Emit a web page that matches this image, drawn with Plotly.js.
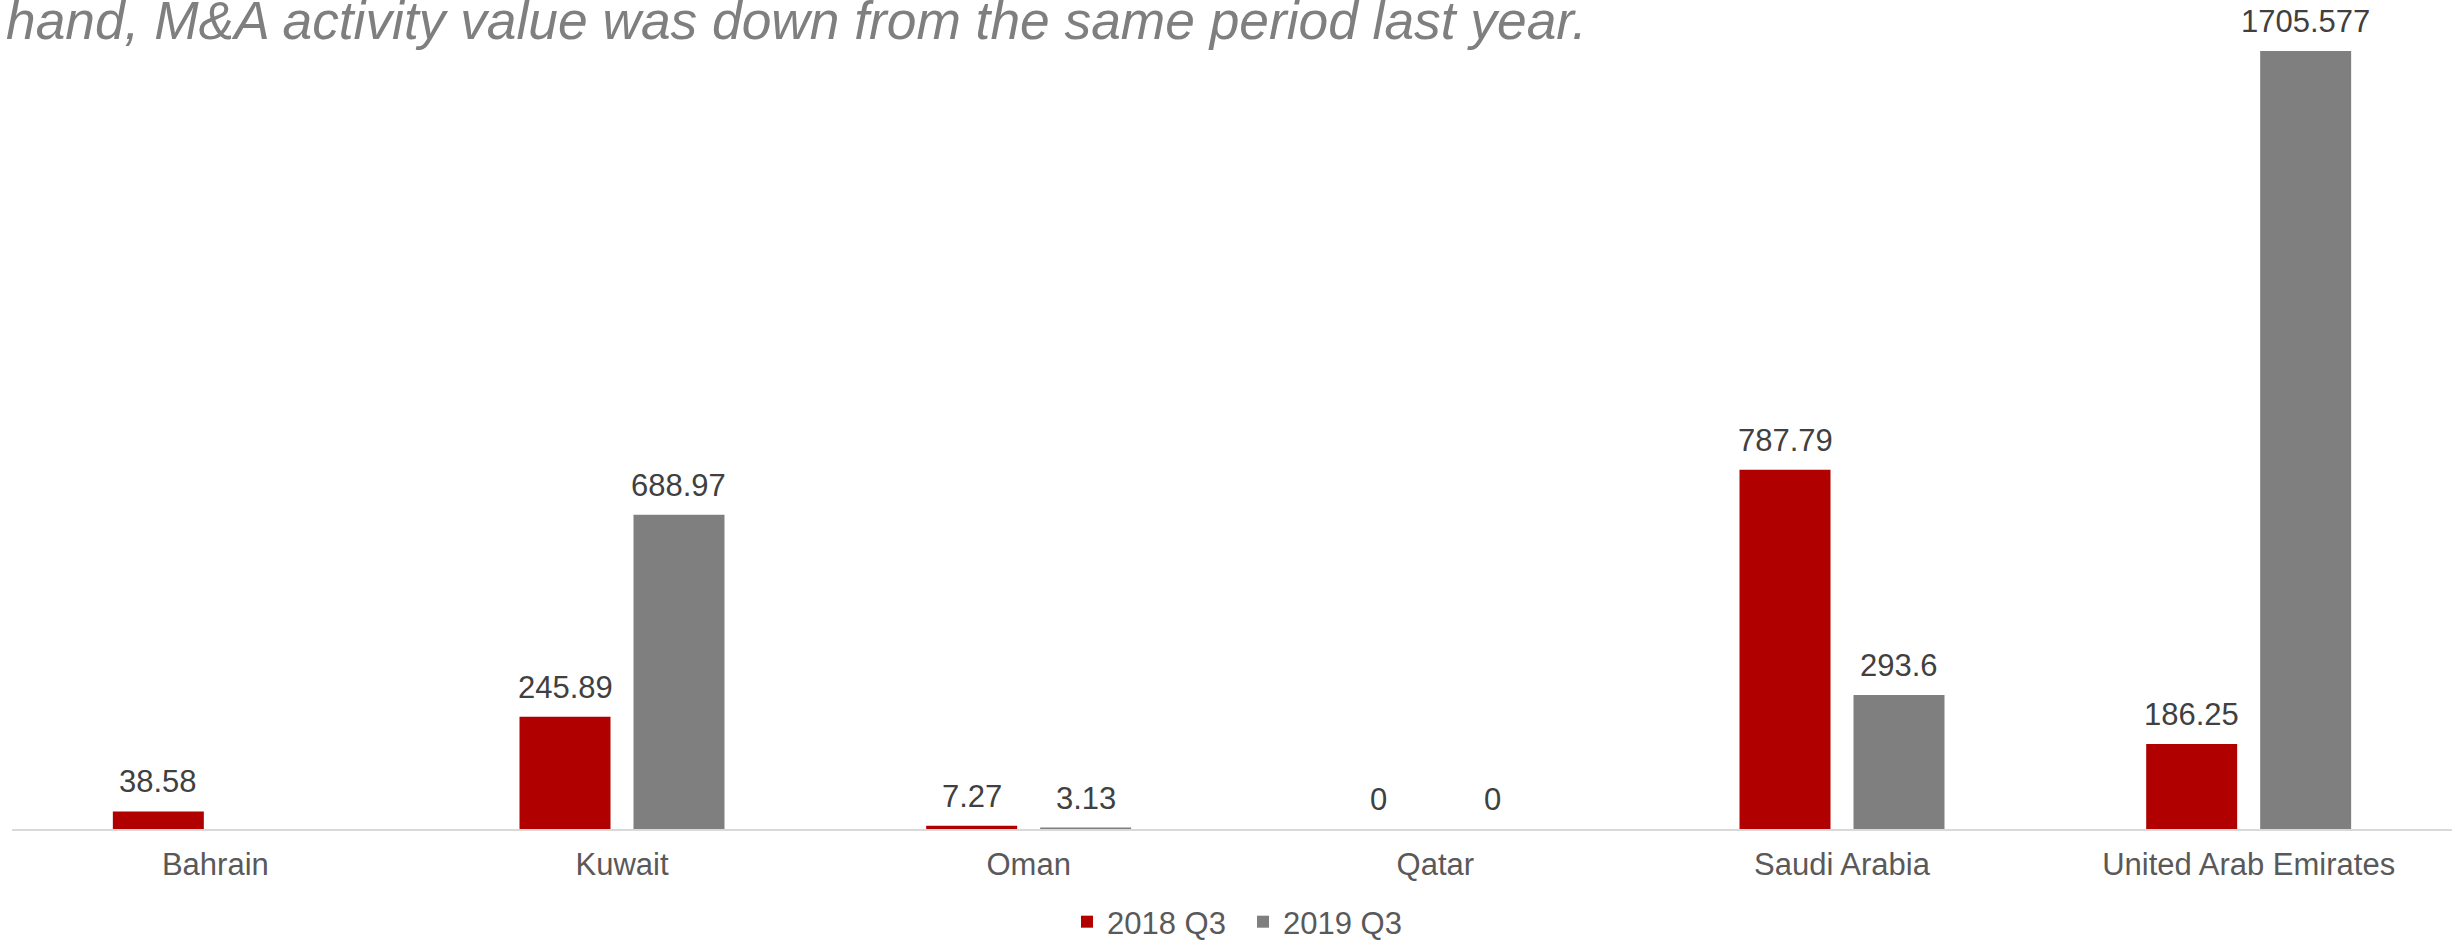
<!DOCTYPE html>
<html>
<head>
<meta charset="utf-8">
<script src="https://cdn.plot.ly/plotly-3.0.1.min.js"></script>
<style>
  html, body { margin: 0; padding: 0; background: #ffffff; }
  #chart { width: 2455px; height: 940px; }
</style>
</head>
<body>
<div id="chart"></div>
<script>
// GCC M&A deal value by country, Q3 2018 vs Q3 2019
const countries = ['Bahrain', 'Kuwait', 'Oman', 'Qatar', 'Saudi Arabia', 'United Arab Emirates'];
const seriesNames = ['2018 Q3', '2019 Q3'];
const values2018 = [38.58, 245.89, 7.27, 0, 787.79, 186.25];
const values2019 = [null, 688.97, 3.13, 0, 293.6, 1705.577];
const headline = 'hand, M&A activity value was down from the same period last year.';

const FONT = 'Liberation Sans, Arial, sans-serif';
const W = 2455, H = 940;
const MARGIN = { l: 12, r: 3, t: 20, b: 111, pad: 0, autoexpand: false };
const BARGAP = 0.4394;
const BARGROUPGAP = 0.2018;

const series = [
  { name: seriesNames[0], values: values2018, color: '#b00000' },
  { name: seriesNames[1], values: values2019, color: '#7f7f7f' }
];

const data = series.map(s => ({
  type: 'bar',
  name: s.name,
  x: countries,
  y: s.values,
  marker: { color: s.color, line: { width: 0 } },
  hoverinfo: 'x+y'
}));

// Value labels sit above each bar; the horizontal offset is half a bar slot
// within its group, derived from the plot width and the bar gap settings.
const plotWidth = W - MARGIN.l - MARGIN.r;
const slot = (plotWidth / countries.length) * (1 - BARGAP) / series.length;
const annotations = [];
series.forEach((s, si) => {
  const shift = (si - (series.length - 1) / 2) * slot;
  s.values.forEach((v, i) => {
    if (v === null) return;
    annotations.push({
      xref: 'x', yref: 'y',
      x: countries[i], y: v,
      xanchor: 'center', yanchor: 'bottom',
      xshift: shift, yshift: 10,
      text: String(v),
      showarrow: false,
      font: { family: FONT, size: 31, color: '#404040' }
    });
  });
});

const layout = {
  width: W,
  height: H,
  paper_bgcolor: '#ffffff',
  plot_bgcolor: '#ffffff',
  margin: MARGIN,
  font: { family: FONT, color: '#595959' },
  title: {
    text: headline,
    font: { family: FONT, size: 53.3, color: '#7f7f7f', style: 'italic' },
    xref: 'container', x: 0, xanchor: 'left',
    yref: 'container', y: 1, yanchor: 'top',
    pad: { l: 6, t: 2 }
  },
  barmode: 'group',
  bargap: BARGAP,
  bargroupgap: BARGROUPGAP,
  xaxis: {
    type: 'category',
    showline: true,
    linecolor: '#d9d9d9',
    linewidth: 2,
    showgrid: false,
    zeroline: false,
    ticks: '',
    ticklabelstandoff: 7,
    tickfont: { family: FONT, size: 31, color: '#595959' }
  },
  yaxis: {
    range: [0, 1773.5],
    visible: false,
    showgrid: false,
    zeroline: false
  },
  legend: {
    orientation: 'h',
    x: 0.5045,
    xanchor: 'center',
    y: -0.115,
    yanchor: 'middle',
    entrywidth: 131,
    entrywidthmode: 'pixels',
    font: { family: FONT, size: 31, color: '#595959' },
    itemclick: false,
    traceorder: 'normal'
  },
  showlegend: true,
  annotations: annotations
};

Plotly.newPlot('chart', data, layout, { displayModeBar: false, staticPlot: true });
</script>
</body>
</html>
